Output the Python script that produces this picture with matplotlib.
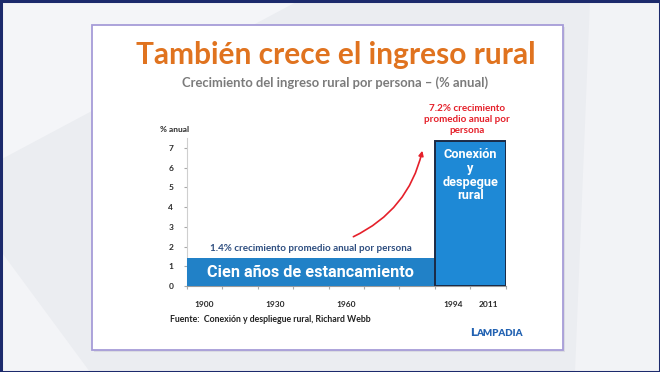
import matplotlib
matplotlib.use("Agg")
import matplotlib.pyplot as plt
from matplotlib.patches import Rectangle, Polygon, FancyArrowPatch

# ---- data ----
slot_labels = ['1900', '', '1930', '', '1960', '', '', '1994', '2011']
period_start = [0, 7]          # first category slot of each period
period_span = [7, 2]           # number of category slots
period_values = [1.4, 7.35]    # % annual growth (as drawn)
y_ticks = [0, 1, 2, 3, 4, 5, 6, 7]

W, H = 660, 372
fig = plt.figure(figsize=(W / 100, H / 100), dpi=100)
fig.patch.set_facecolor('#EBEDF1')

def px(x, y):
    return x / W, 1 - y / H

# background shapes
bg = fig.add_axes([0, 0, 1, 1], zorder=-10)
bg.set_xlim(0, W); bg.set_ylim(H, 0); bg.axis('off')
bg.add_patch(Polygon([[0, 0], [300, 0], [0, 160]], closed=True, fc='#F4F5F8', ec='none'))
bg.add_patch(Polygon([[590, 0], [660, 0], [660, 372], [575, 372]], closed=True, fc='#F2F3F6', ec='none'))
bg.add_patch(Polygon([[0, 250], [90, 372], [0, 372]], closed=True, fc='#F3F4F7', ec='none'))
# card shadow + card
bg.add_patch(Rectangle((94, 27), 471, 325, fc='#DADBE2', ec='none'))
bg.add_patch(Rectangle((92, 25), 471, 325, fc='white', ec='#A69CD8', lw=1.3))
# outer frame
bg.add_patch(Rectangle((0.5, 0.5), W - 1, H - 1, fc='none', ec='#1C2A6C', lw=2.2))

# ---- titles ----
fig.text(*px(336, 55), 'También crece el ingreso rural', ha='center', va='center',
         fontsize=21.5, fontweight='bold', color='#E0731F', family='Lato')
fig.text(*px(335, 83), 'Crecimiento del ingreso rural por persona – (% anual)', ha='center',
         va='center', fontsize=9.4, fontweight='bold', color='#7B7B7B', family='Lato')

# ---- axes ----
x0, x1 = 186.5, 506.0
y0 = 286.0
unit = 19.71
ymax = 7.5
ax = fig.add_axes([x0 / W, 1 - y0 / H, (x1 - x0) / W, ymax * unit / H])
ax.set_facecolor('none')
ax.set_xlim(0, len(slot_labels))
ax.set_ylim(0, ymax)

colors = ['#2181C7', '#1E89D6']
edges = ['none', '#1B2A45']
for s, w, v, c, e in zip(period_start, period_span, period_values, colors, edges):
    ax.bar(s, v, width=w, align='edge', color=c, edgecolor=e,
           linewidth=1.4 if e != 'none' else 0, zorder=3)

for sp in ['top', 'right']:
    ax.spines[sp].set_visible(False)
ax.spines['left'].set_color('#CFCFCF')
ax.spines['bottom'].set_color('#9A9A9A')
ax.spines['left'].set_linewidth(0.8)
ax.spines['bottom'].set_linewidth(0.8)

ax.set_yticks(y_ticks)
ax.set_yticklabels([str(t) for t in y_ticks], fontsize=6, fontweight='bold',
                   color='#2A2A2A', family='Lato')
ax.tick_params(axis='y', length=2.5, color='#AAAAAA', pad=7)

ax.set_xticks(range(len(slot_labels) + 1))
ax.set_xticklabels([])
ax.set_xticks([i + 0.5 for i in range(len(slot_labels))], minor=True)
ax.set_xticklabels(slot_labels, minor=True, fontsize=6, fontweight='bold',
                   color='#2A2A2A', family='Lato')
ax.tick_params(axis='x', which='major', length=2.5, color='#AAAAAA')
ax.tick_params(axis='x', which='minor', length=0, pad=10.5)

fig.text(*px(175, 130), '% anual', ha='center', va='center', fontsize=6,
         fontweight='bold', color='#2A2A2A', family='Lato')

# bar annotations
left_mid = period_start[0] + period_span[0] / 2
right_mid = period_start[1] + period_span[1] / 2
ax.text(left_mid, period_values[0] / 2, 'Cien años de estancamiento', ha='center',
        va='center', color='white', fontsize=11.7, fontweight='bold',
        family='Roboto', zorder=5)
ax.text(left_mid, period_values[0] + 0.48, '1.4% crecimiento promedio anual por persona',
        ha='center', va='center', color='#2E4E80', fontsize=7.1, fontweight='bold',
        family='Lato', zorder=5)
ax.text(right_mid, 7.0, 'Conexión\ny\ndespegue\nrural', ha='center', va='top',
        color='white', fontsize=9.2, fontweight='bold', family='Roboto',
        linespacing=1.08, zorder=5)
fig.text(*px(467, 119.5), '7.2% crecimiento\npromedio anual por\npersona', ha='center',
         va='center', color='#E5202A', fontsize=7.1, fontweight='bold', family='Lato',
         linespacing=1.3)

arrow = FancyArrowPatch((4.63, 2.44), (6.66, 7.0), connectionstyle='arc3,rad=0.25',
                        arrowstyle='-|>', mutation_scale=7, color='#E5202A', lw=1.2,
                        zorder=6)
ax.add_patch(arrow)

# footer
fig.text(*px(170, 319), 'Fuente:  Conexión y despliegue rural, Richard Webb', ha='left',
         va='center', fontsize=6.3, fontweight='bold', color='#222222', family='Lato')
tL = fig.text(*px(470, 336), 'L', ha='left', va='baseline', fontsize=8.6,
              fontweight='heavy', color='#2262B2', family='Lato')
bg.annotate('AMPADIA', xy=(1, 0), xycoords=tL, xytext=(-0.3, 0), textcoords='offset points',
            ha='left', va='bottom', fontsize=7, fontweight='heavy', color='#2262B2',
            family='Lato')

fig.savefig('out.png', dpi=100, facecolor=fig.get_facecolor())
plt.close('all')
